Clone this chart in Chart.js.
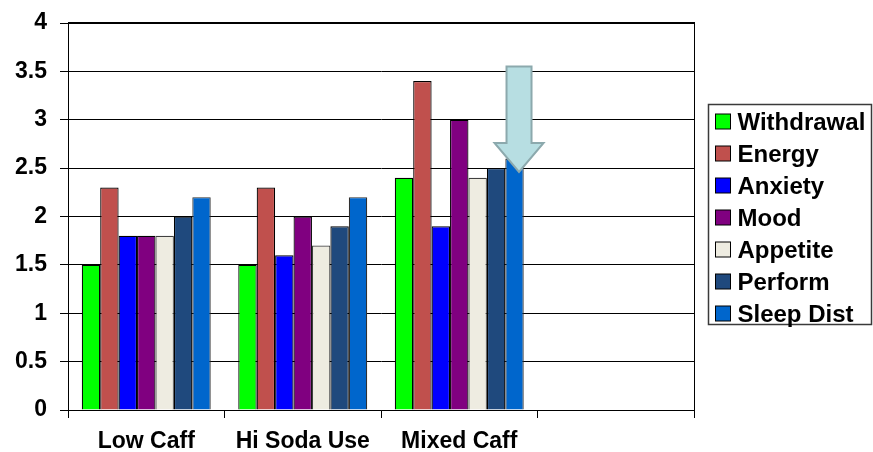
<!DOCTYPE html>
<html>
<head>
<meta charset="utf-8">
<script src="https://cdn.jsdelivr.net/npm/chart.js@4/dist/chart.umd.min.js"></script>
<style>
  html, body { margin: 0; padding: 0; background: #ffffff; }
  #wrap { width: 873px; height: 452px; position: relative; }
</style>
</head>
<body>
<div id="wrap"><canvas id="chart" width="873" height="452"></canvas></div>
<script>
// Groups along the x axis (the fourth slot is left empty)
const groups = ["Low Caff", "Hi Soda Use", "Mixed Caff", ""];

// Symptom ratings per group
const withdrawal = [1.5, 1.5, 2.4, null];
const energy     = [2.3, 2.3, 3.4, null];
const anxiety    = [1.8, 1.6, 1.9, null];
const mood       = [1.8, 2.0, 3.0, null];
const appetite   = [1.8, 1.7, 2.4, null];
const perform    = [2.0, 1.9, 2.5, null];
const sleepDist  = [2.2, 2.2, 2.6, null];

// Value axis ticks
const yTicks = [0, 0.5, 1, 1.5, 2, 2.5, 3, 3.5, 4];

// Callout arrow: points down at the Mixed Caff sleep bar (values on the y scale)
const arrowTop = 3.55;
const arrowNeck = 2.76;
const arrowTip = 2.46;

const FONT = "'Liberation Sans', Arial, Helvetica, sans-serif";

const series = [
  { label: "Withdrawal", data: withdrawal, color: "#00ff00", edge: "#000000" },
  { label: "Energy",     data: energy,     color: "#c0504d", edge: "#000000" },
  { label: "Anxiety",    data: anxiety,    color: "#0000ff", edge: "#000000" },
  { label: "Mood",       data: mood,       color: "#800080", edge: "#000000" },
  { label: "Appetite",   data: appetite,   color: "#eeece1", edge: "#404040" },
  { label: "Perform",    data: perform,    color: "#1f497d", edge: "#000000" },
  { label: "Sleep Dist", data: sleepDist,  color: "#0066cc", edge: "#303030" }
];

// Right-hand border of the plot and a heavier top edge
const frame = {
  id: "frame",
  afterDraw(chart) {
    const { ctx, chartArea: a } = chart;
    ctx.save();
    ctx.strokeStyle = "#000";
    ctx.lineWidth = 1;
    ctx.beginPath();
    ctx.moveTo(Math.round(a.right) + 0.5, a.top);
    ctx.lineTo(Math.round(a.right) + 0.5, a.bottom);
    ctx.stroke();
    ctx.lineWidth = 2;
    ctx.beginPath();
    ctx.moveTo(a.left, Math.round(a.top));
    ctx.lineTo(a.right + 1, Math.round(a.top));
    ctx.stroke();
    ctx.restore();
  }
};

// Boxed legend to the right of the plot, built from the datasets
const boxedLegend = {
  id: "boxedLegend",
  afterDraw(chart) {
    const { ctx, chartArea: a } = chart;
    const rowH = 32, sw = 15;
    const n = chart.data.datasets.length;
    const boxL = a.right + 14.5, boxR = 871.5;
    const boxH = n * rowH - 4;
    const boxT = Math.round((a.top + a.bottom) / 2 - boxH / 2) - 2.5;
    ctx.save();
    ctx.strokeStyle = "#3a3a3a";
    ctx.lineWidth = 1.5;
    ctx.strokeRect(boxL, boxT, boxR - boxL, boxH);
    ctx.font = "bold 24px " + FONT;
    ctx.textBaseline = "alphabetic";
    ctx.fillStyle = "#000";
    chart.data.datasets.forEach((ds, i) => {
      const y = boxT + 9.5 + i * rowH;
      const x = boxL + 7;
      ctx.fillStyle = ds.backgroundColor;
      ctx.fillRect(x, y, sw, sw);
      ctx.strokeStyle = "#000";
      ctx.lineWidth = 1;
      ctx.strokeRect(x, y, sw, sw);
      ctx.fillStyle = "#000";
      ctx.fillText(ds.label, x + 22, y + sw + 0.5);
    });
    ctx.restore();
  }
};

// Down arrow over the last bar of the Mixed Caff group
const callout = {
  id: "callout",
  afterDatasetsDraw(chart) {
    const { ctx } = chart;
    const yScale = chart.scales.y;
    const bar = chart.getDatasetMeta(6).data[2];
    const cx = bar.x + 4.5;
    const yTop = yScale.getPixelForValue(arrowTop);
    const yNeck = yScale.getPixelForValue(arrowNeck);
    const yTip = yScale.getPixelForValue(arrowTip);
    const shaft = 12.5, head = 24.5;
    ctx.save();
    ctx.beginPath();
    ctx.moveTo(cx - shaft, yTop);
    ctx.lineTo(cx + shaft, yTop);
    ctx.lineTo(cx + shaft, yNeck);
    ctx.lineTo(cx + head, yNeck);
    ctx.lineTo(cx, yTip);
    ctx.lineTo(cx - head, yNeck);
    ctx.lineTo(cx - shaft, yNeck);
    ctx.closePath();
    ctx.fillStyle = "#b7dee2";
    ctx.fill();
    ctx.strokeStyle = "#8ca9ad";
    ctx.lineWidth = 2;
    ctx.lineJoin = "miter";
    ctx.stroke();
    ctx.restore();
  }
};

const xFont = { family: FONT, size: 23, weight: "bold" };
const yFont = { family: FONT, size: 23, weight: "bold", lineHeight: 0.87 };

new Chart(document.getElementById("chart"), {
  type: "bar",
  data: {
    labels: groups,
    datasets: series.map(s => ({
      label: s.label,
      data: s.data,
      backgroundColor: s.color,
      borderColor: s.edge,
      borderWidth: 1.2
    }))
  },
  options: {
    responsive: false,
    animation: false,
    devicePixelRatio: 1,
    layout: { padding: { top: 20, right: 179, bottom: 0, left: 0 } },
    datasets: { bar: { categoryPercentage: 0.824, barPercentage: 1.0 } },
    plugins: {
      legend: { display: false },
      tooltip: { enabled: false },
      title: { display: false }
    },
    scales: {
      x: {
        offset: true,
        grid: { drawOnChartArea: false, drawTicks: true, tickLength: 8, color: "#000", offset: true },
        border: { color: "#000", width: 1 },
        ticks: { font: xFont, color: "#000", padding: 10, maxRotation: 0, autoSkip: false },
        afterFit(scale) { scale.height = 42; }
      },
      y: {
        min: 0,
        max: 4,
        afterBuildTicks(scale) { scale.ticks = yTicks.map(v => ({ value: v })); },
        grid: { color: "#000", tickLength: 8, lineWidth: 1 },
        border: { color: "#000", width: 1 },
        ticks: { font: yFont, color: "#000", padding: 13, callback: v => String(v) },
        afterFit(scale) { scale.width = 68; }
      }
    }
  },
  plugins: [frame, callout, boxedLegend]
});
</script>
</body>
</html>
